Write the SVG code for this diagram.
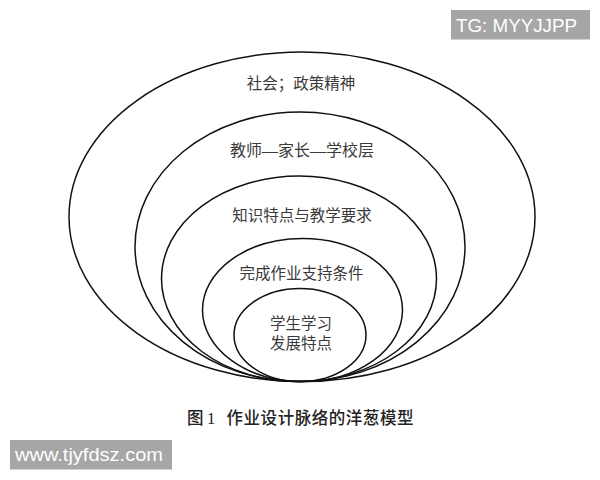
<svg xmlns="http://www.w3.org/2000/svg" width="600" height="480" viewBox="0 0 600 480">
<style>
.ring{fill:none;stroke:#111;stroke-width:1.5}
.lbl{font-family:"Liberation Serif","Noto Sans CJK SC",serif;font-size:15.5px;fill:#3a3a3a;text-anchor:middle}
.cap{font-family:"Liberation Serif","Noto Sans CJK SC",serif;font-size:16.5px;font-weight:500;fill:#222}
.wm{fill:#a6a6a6}
.wmt{font-family:"Liberation Sans",Arial,sans-serif;fill:#fff}
</style>
<rect width="600" height="480" fill="#fff"/>
<g id="layer-society">
<ellipse class="ring" cx="302" cy="216.8" rx="233" ry="164.8"/>
<text class="lbl" x="301" y="89">社会；政策精神</text>
</g>
<g id="layer-teacher-family-school">
<ellipse class="ring" cx="300" cy="246.8" rx="165" ry="134.8"/>
<text class="lbl" x="302" y="155.5" style="font-size:16px">教师—家长—学校层</text>
</g>
<g id="layer-knowledge">
<ellipse class="ring" cx="299" cy="278.8" rx="137.5" ry="102.8"/>
<text class="lbl" x="302" y="220.5">知识特点与教学要求</text>
</g>
<g id="layer-support">
<ellipse class="ring" cx="302.5" cy="310" rx="100" ry="71.6"/>
<text class="lbl" x="301.5" y="278.5">完成作业支持条件</text>
</g>
<g id="layer-student">
<ellipse class="ring" cx="300" cy="335" rx="66" ry="46.6"/>
<text class="lbl" x="301" y="328.5">学生学习</text>
<text class="lbl" x="301" y="349">发展特点</text>
</g>
<g id="connectors"/>
<g id="caption">
<text class="cap" y="424"><tspan x="187">图</tspan><tspan x="207">1</tspan><tspan x="226.5" textLength="187" lengthAdjust="spacing">作业设计脉络的洋葱模型</tspan></text>
</g>
<g id="watermark-tg">
<rect class="wm" x="451" y="10" width="139" height="29.5"/>
<text class="wmt" x="456" y="31.5" style="font-size:18.5px" textLength="121" lengthAdjust="spacingAndGlyphs">TG: MYYJJPP</text>
</g>
<g id="watermark-url">
<rect class="wm" x="10" y="440" width="162" height="29.5"/>
<text class="wmt" x="15" y="460.5" style="font-size:19px" textLength="148" lengthAdjust="spacingAndGlyphs">www.tjyfdsz.com</text>
</g>
</svg>
